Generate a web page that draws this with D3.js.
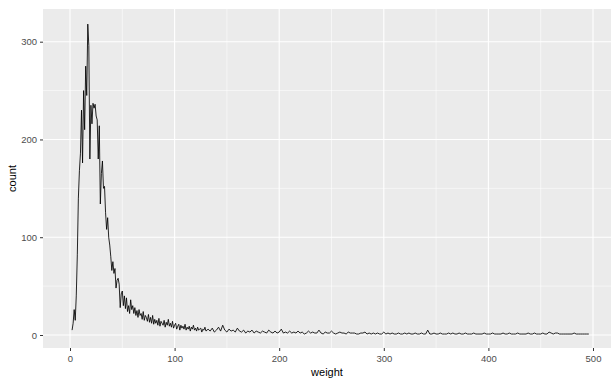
<!DOCTYPE html>
<html>
<head>
<meta charset="utf-8">
<script src="https://cdn.jsdelivr.net/npm/d3@7"></script>
<style>
	html, body { margin: 0; padding: 0; background: #fff; }
	svg { display: block; font-family: 'Liberation Sans', Arial, sans-serif; }
</style>
</head>
<body>
<svg id="chart" width="613" height="379"></svg>
<script>
// counts per 1-unit weight bin, weights 2..130
const headStart = 2;
const headCounts = [
	5, 12, 26, 15, 40, 82, 140, 168, 186, 230,
	176, 250, 210, 275, 245, 318, 296, 180, 235, 216,
	237, 232, 236, 224, 220, 180, 214, 134, 165, 178,
	150, 152, 125, 108, 120, 100, 92, 80, 66, 75,
	63, 68, 48, 56, 58, 52, 28, 42, 45, 30,
	40, 27, 38, 24, 30, 22, 36, 26, 30, 22,
	28, 20, 25, 18, 26, 20, 22, 16, 24, 15,
	20, 18, 14, 21, 13, 18, 12, 20, 11, 16,
	12, 15, 10, 17, 9, 14, 12, 10, 15, 8,
	13, 10, 16, 9, 12, 8, 14, 7, 10, 12,
	6, 9, 11, 5, 10, 7, 9, 6, 11, 5,
	8, 6, 9, 4, 8, 6, 10, 5, 7, 4,
	8, 5, 6, 7, 3, 6, 5, 8, 4
];

// tail, every 2nd weight from 132 to 496
const tailStart = 132;
const tailCounts = [
	6, 4, 7, 3, 5, 8, 4, 10, 5, 3,
	6, 4, 5, 3, 7, 4, 3, 5, 2, 4,
	3, 5, 2, 4, 3, 2, 4, 3, 2, 5,
	3, 2, 4, 2, 3, 6, 2, 3, 2, 4,
	2, 3, 2, 4, 2, 3, 1, 2, 4, 2,
	3, 2, 2, 5, 2, 1, 3, 2, 2, 4,
	2, 1, 2, 3, 2, 2, 1, 3, 2, 2,
	2, 1, 1, 2, 2, 3, 1, 2, 1, 2,
	1, 2, 1, 1, 3, 1, 2, 1, 2, 1,
	1, 2, 1, 1, 2, 1, 2, 1, 1, 2,
	1, 1, 2, 1, 1, 5, 1, 1, 2, 1,
	1, 2, 1, 1, 1, 2, 1, 2, 1, 1,
	2, 1, 1, 2, 1, 1, 1, 2, 1, 1,
	1, 1, 2, 1, 1, 1, 2, 1, 1, 1,
	1, 2, 1, 1, 2, 1, 1, 1, 2, 1,
	1, 1, 1, 2, 1, 1, 2, 1, 1, 1,
	2, 1, 1, 3, 2, 1, 2, 2, 1, 1,
	1, 1, 1, 1, 1, 2, 1, 1, 1, 1,
	1, 1, 1
];

const xTicks = [0, 100, 200, 300, 400, 500];
const yTicks = [0, 100, 200, 300];
const xLabel = 'weight';
const yLabel = 'count';

const points = headCounts
	.map((c, i) => ({ w: headStart + i, c }))
	.concat(tailCounts.map((c, i) => ({ w: tailStart + i * 2, c })));

const panel = { left: 43, right: 611, top: 9, bottom: 348 };

const xScale = d3.scaleLinear([0, 500], [70, 593]);
const yScale = d3.scaleLinear([0, 300], [335, 41.7]);

const svg = d3.select('#chart');

/** PANEL *******************************************************************/
svg
	.append('rect')
	.attr('x', panel.left)
	.attr('y', panel.top)
	.attr('width', panel.right - panel.left)
	.attr('height', panel.bottom - panel.top)
	.attr('fill', '#EBEBEB');

const gridG = svg.append('g');

// minor grid halfway between major ticks
const xMinor = xTicks.map((d) => d - 50).concat([550]).filter((d) => {
	const p = xScale(d);
	return p > panel.left && p < panel.right;
});
const yMinor = yTicks.map((d) => d + 50).concat([-50]).filter((d) => {
	const p = yScale(d);
	return p > panel.top && p < panel.bottom;
});

gridG
	.selectAll('.minor-x')
	.data(xMinor)
	.enter()
	.append('line')
	.attr('stroke', '#fff')
	.attr('stroke-width', 0.55)
	.attr('x1', (d) => xScale(d))
	.attr('x2', (d) => xScale(d))
	.attr('y1', panel.top)
	.attr('y2', panel.bottom);

gridG
	.selectAll('.minor-y')
	.data(yMinor)
	.enter()
	.append('line')
	.attr('stroke', '#fff')
	.attr('stroke-width', 0.55)
	.attr('y1', (d) => yScale(d))
	.attr('y2', (d) => yScale(d))
	.attr('x1', panel.left)
	.attr('x2', panel.right);

gridG
	.selectAll('.major-x')
	.data(xTicks)
	.enter()
	.append('line')
	.attr('stroke', '#fff')
	.attr('stroke-width', 1.1)
	.attr('x1', (d) => xScale(d))
	.attr('x2', (d) => xScale(d))
	.attr('y1', panel.top)
	.attr('y2', panel.bottom);

gridG
	.selectAll('.major-y')
	.data(yTicks)
	.enter()
	.append('line')
	.attr('stroke', '#fff')
	.attr('stroke-width', 1.1)
	.attr('y1', (d) => yScale(d))
	.attr('y2', (d) => yScale(d))
	.attr('x1', panel.left)
	.attr('x2', panel.right);

/** AXES ********************************************************************/
const bottomAxis = d3.axisBottom(xScale).tickValues(xTicks).tickSize(3).tickPadding(4);
const xAxisG = svg
	.append('g')
	.attr('transform', `translate(0, ${panel.bottom})`)
	.call(bottomAxis);

const leftAxis = d3.axisLeft(yScale).tickValues(yTicks).tickSize(3).tickPadding(3);
const yAxisG = svg
	.append('g')
	.attr('transform', `translate(${panel.left}, 0)`)
	.call(leftAxis);

[xAxisG, yAxisG].forEach((g) => {
	g.select('.domain').remove();
	g.selectAll('.tick line').attr('stroke', '#333').attr('stroke-width', 1);
	g.selectAll('.tick text')
		.attr('fill', '#4D4D4D')
		.style('font-size', '9.5px')
		.style('font-family', "'Liberation Sans', Arial, sans-serif");
});

/** DATA ********************************************************************/
svg
	.append('path')
	.datum(points)
	.attr('fill', 'none')
	.attr('stroke', '#000')
	.attr('stroke-width', 0.85)
	.attr('stroke-linejoin', 'round')
	.attr(
		'd',
		d3
			.line()
			.x((d) => xScale(d.w))
			.y((d) => yScale(d.c))
	);

/** TITLES ******************************************************************/
svg
	.append('text')
	.attr('x', (panel.left + panel.right) / 2)
	.attr('y', 376)
	.attr('text-anchor', 'middle')
	.attr('fill', '#000')
	.style('font-size', '11px')
	.text(xLabel);

svg
	.append('text')
	.attr('transform', `translate(16, ${(panel.top + panel.bottom) / 2}) rotate(-90)`)
	.attr('text-anchor', 'middle')
	.attr('fill', '#000')
	.style('font-size', '11px')
	.text(yLabel);
</script>
</body>
</html>
